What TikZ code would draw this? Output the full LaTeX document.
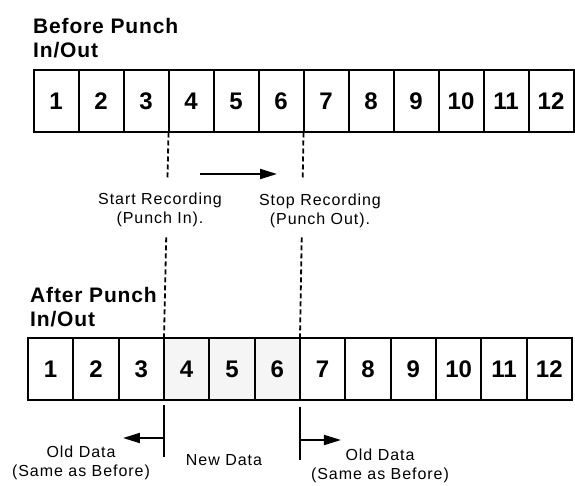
\documentclass[tikz,border=0pt]{standalone}
\usepackage{fontspec}
\setmainfont{Liberation Sans}
\newfontfamily\lblfont[LetterSpace=6]{Liberation Sans}
\newfontfamily\ttlfont[LetterSpace=4]{Liberation Sans}
\usetikzlibrary{arrows.meta,calc}
\begin{document}
\begin{tikzpicture}[x=1pt,y=-1pt,
  cellbox/.style={draw,line width=2pt,minimum height=62pt,inner sep=0pt,outer sep=0pt,
     font=\fontsize{24}{24}\selectfont\bfseries},
  newcell/.style={cellbox,fill=gray!8},
  title/.style={anchor=north west,inner sep=0pt,align=left,font=\ttlfont\bfseries\fontsize{21}{24}\selectfont},
  lbl/.style={inner sep=0pt,align=center,font=\lblfont\fontsize{16}{19}\selectfont},
  dashline/.style={line width=1.8pt,dash pattern=on 5pt off 3pt},
  solidline/.style={line width=2pt},
  arr/.style={line width=2pt,-{Triangle[length=17pt,width=10pt]}}]
\useasboundingbox (0,0) rectangle (575,486);
% titles
\node[title] (ttop) at (33,18) {Before Punch\\In/Out};
\node[title] (tbot) at (30,287) {After Punch\\In/Out};
% top row
\foreach \i in {1,...,12}{
  \node[cellbox,minimum width=45pt] (t\i) at ({33.5+22.5+45*(\i-1)},101.5) {\i};
}
% bottom row
\foreach \i in {1,2,3,7,8,9,10,11,12}{
  \node[cellbox,minimum width=45.33pt] (b\i) at ({28+22.67+45.33*(\i-1)},369) {\i};
}
\foreach \i in {4,5,6}{
  \node[newcell,minimum width=45.33pt] (b\i) at ({28+22.67+45.33*(\i-1)},369) {\i};
}
% dashed markers
\draw[dashline] (t3.south east) -- ($(t3.south east)!0.22!(b3.north east)$);
\draw[dashline] ($(t3.south east)!0.51!(b3.north east)$) -- (b3.north east);
\draw[dashline] (t6.south east) -- ($(t6.south east)!0.22!(b6.north east)$);
\draw[dashline] ($(t6.south east)!0.51!(b6.north east)$) -- (b6.north east);
% middle arrow
\coordinate (ma) at (200,174);
\coordinate (mb) at (277,174);
\draw[arr] (ma) -- (mb);
\node[lbl] (start) at (160,210) {Start Recording\\(Punch In).};
\node[lbl] (stop) at (320,211) {Stop Recording\\(Punch Out).};
% bottom markers
\coordinate (l1) at ($(b3.south east)+(0,5)$);
\coordinate (l2) at ($(b3.south east)+(0,57)$);
\coordinate (r1) at ($(b6.south east)+(0,7)$);
\coordinate (r2) at ($(b6.south east)+(0,60)$);
\draw[solidline] (l1) -- (l2);
\draw[solidline] (r1) -- (r2);
\coordinate (la) at ($(b3.south east)+(0,38)$);
\coordinate (lb) at ($(la)+(-41,0)$);
\coordinate (ra) at ($(b6.south east)+(0,40)$);
\coordinate (rb) at ($(ra)+(41,0)$);
\draw[arr] (la) -- (lb);
\draw[arr] (ra) -- (rb);
\node[lbl] (oldl) at (81,463) {Old Data\\(Same as Before)};
\node[lbl] (newd) at (224,460) {New Data};
\node[lbl] (oldr) at (380,466) {Old Data\\(Same as Before)};
\end{tikzpicture}
\end{document}
